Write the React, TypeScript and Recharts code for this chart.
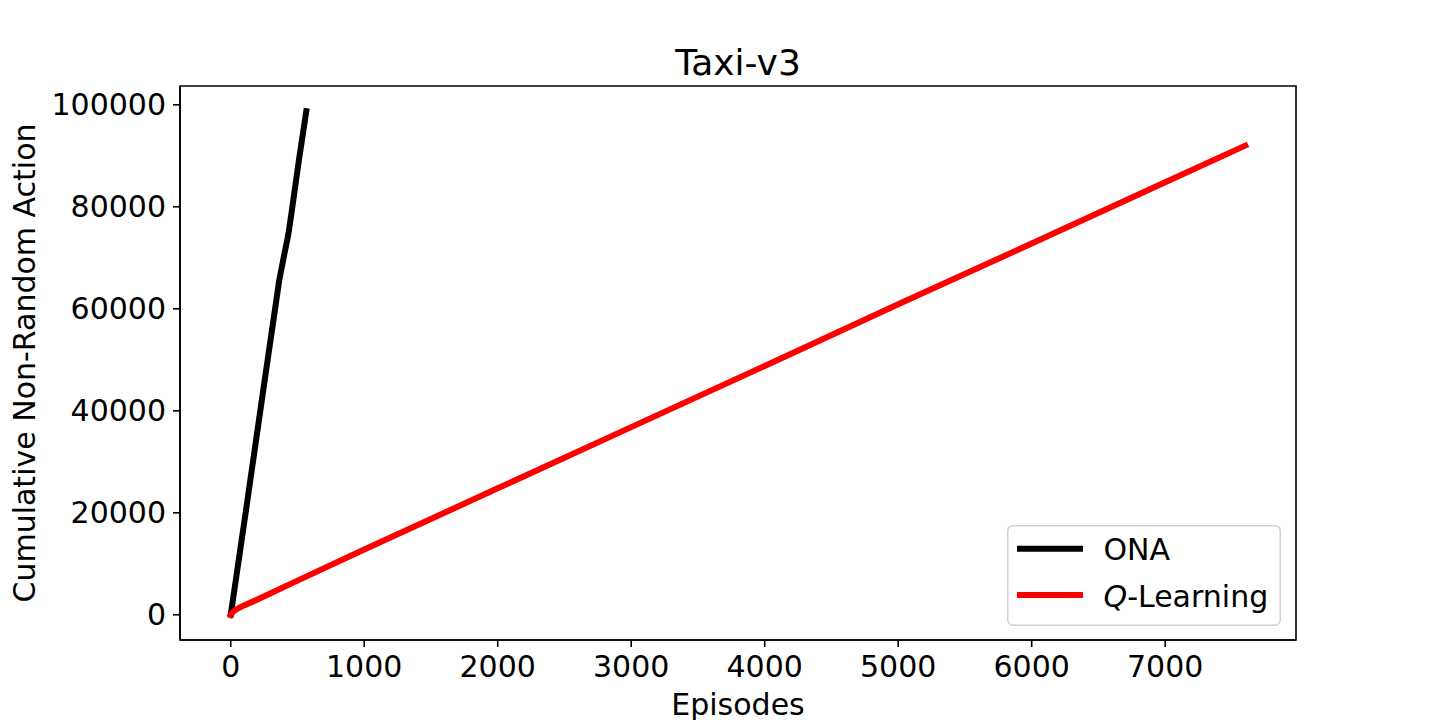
import React from 'react';
import { LineChart, Line, XAxis, YAxis, ReferenceArea, Legend, Label } from 'recharts';

// ONA series (episode, cumulative non-random actions)
const onaEpisodes = [0, 120, 250, 364, 400, 431, 457, 510, 566];
const onaValues = [0, 21500, 45200, 65700, 70500, 74500, 79100, 89000, 98750];

// Q-Learning series
const qEpisodes = [0, 10, 30, 60, 100, 200, 500, 1000, 2000, 3000, 4000, 5000, 6000, 7000, 7600];
const qValues = [0, 400, 850, 1350, 1850, 3000, 6700, 12800, 24800, 36800, 48800, 60900, 72800, 84800, 92000];

const xTicks = [0, 1000, 2000, 3000, 4000, 5000, 6000, 7000];
const yTicks = [0, 20000, 40000, 60000, 80000, 100000];
const xDomain = [-380, 7980];
const yDomain = [-4938, 103690];

const seriesNames = ['ONA', 'Q-Learning'];
const seriesColors = ['#000000', '#ff0000'];
const titleText = 'Taxi-v3';
const xLabelText = 'Episodes';
const yLabelText = 'Cumulative Non-Random Action';

const onaData = onaEpisodes.map((x, i) => ({ x, y: onaValues[i] }));
const qData = qEpisodes.map((x, i) => ({ x, y: qValues[i] }));

const FONT = '"DejaVu Sans", sans-serif';
const FS = 30;

const renderName = (name: string) => {
  if (name.startsWith('Q-')) {
    return (
      <>
        <tspan fontStyle="italic">Q</tspan>
        <tspan>{name.slice(1)}</tspan>
      </>
    );
  }
  return name;
};

const LegendBox = () => (
  <svg width={274} height={101} style={{ display: 'block' }}>
    <rect x={0.75} y={0.75} width={272.5} height={99.5} rx={5} ry={5}
      fill="#ffffff" fillOpacity={0.8} stroke="#d0d0d0" strokeWidth={1.5} />
    {seriesNames.map((name, i) => (
      <g key={name}>
        <line x1={13} x2={73} y1={23.7 + i * 46.3} y2={23.7 + i * 46.3}
          stroke={seriesColors[i]} strokeWidth={6} strokeLinecap="square" />
        <text x={96.5} y={34.5 + i * 47.5} fontSize={FS} fontFamily={FONT} fill="#000">
          {renderName(name)}
        </text>
      </g>
    ))}
  </svg>
);

export default function App() {
  return (
    <div style={{ position: 'relative', width: 1440, height: 720 }}>
      <style>{`body{margin:0;}`}</style>
      <LineChart width={1440} height={720} margin={{ top: 86, right: 144, bottom: 0, left: 0 }}>
        <XAxis
          type="number"
          dataKey="x"
          domain={xDomain}
          ticks={xTicks}
          allowDataOverflow
          height={80}
          tickSize={7}
          tickMargin={9}
          axisLine={{ stroke: '#000', strokeWidth: 1.6 }}
          tickLine={{ stroke: '#000', strokeWidth: 1.6 }}
          tick={{ fontSize: FS, fill: '#000', fontFamily: FONT }}
          interval={0}
        >
          <Label
            content={(props: any) => {
              const vb = props.viewBox || { x: 180, y: 640, width: 1116 };
              return (
                <text x={vb.x + vb.width / 2} y={vb.y + 75} textAnchor="middle"
                  fontSize={FS} fontFamily={FONT} fill="#000">{xLabelText}</text>
              );
            }}
          />
        </XAxis>
        <YAxis
          type="number"
          dataKey="y"
          domain={yDomain}
          ticks={yTicks}
          allowDataOverflow
          width={180}
          tickSize={7}
          tickMargin={7}
          axisLine={{ stroke: '#000', strokeWidth: 1.6 }}
          tickLine={{ stroke: '#000', strokeWidth: 1.6 }}
          tick={{ fontSize: FS, fill: '#000', fontFamily: FONT }}
          interval={0}
        >
          <Label
            content={(props: any) => {
              const vb = props.viewBox || { x: 0, y: 86, width: 180, height: 554 };
              const cx = 35;
              const cy = vb.y + vb.height / 2;
              return (
                <text x={cx} y={cy} textAnchor="middle" transform={`rotate(-90, ${cx}, ${cy})`}
                  fontSize={FS} fontFamily={FONT} fill="#000">{yLabelText}</text>
              );
            }}
          />
        </YAxis>
        <ReferenceArea x1={xDomain[0]} x2={xDomain[1]} y1={yDomain[0]} y2={yDomain[1]}
          fill="none" fillOpacity={0} stroke="#000" strokeWidth={1.6} />
        <Line data={onaData} dataKey="y" name={seriesNames[0]} type="linear" stroke={seriesColors[0]}
          strokeWidth={6} dot={false} activeDot={false} isAnimationActive={false}
          strokeLinecap="square" strokeLinejoin="round" />
        <Line data={qData} dataKey="y" name={seriesNames[1]} type="linear" stroke={seriesColors[1]}
          strokeWidth={6} dot={false} activeDot={false} isAnimationActive={false}
          strokeLinecap="square" strokeLinejoin="round" />
        <Legend
          layout="vertical"
          align="center"
          verticalAlign="middle"
          content={() => <LegendBox />}
          wrapperStyle={{ position: 'absolute', left: 1007, top: 525, width: 274, height: 101, margin: 0 }}
        />
      </LineChart>
      <svg width={1440} height={100} style={{ position: 'absolute', left: 0, top: 0, pointerEvents: 'none' }}>
        <text x={738} y={75} textAnchor="middle" fontSize={36} fontFamily={FONT} fill="#000">{titleText}</text>
      </svg>
    </div>
  );
}
